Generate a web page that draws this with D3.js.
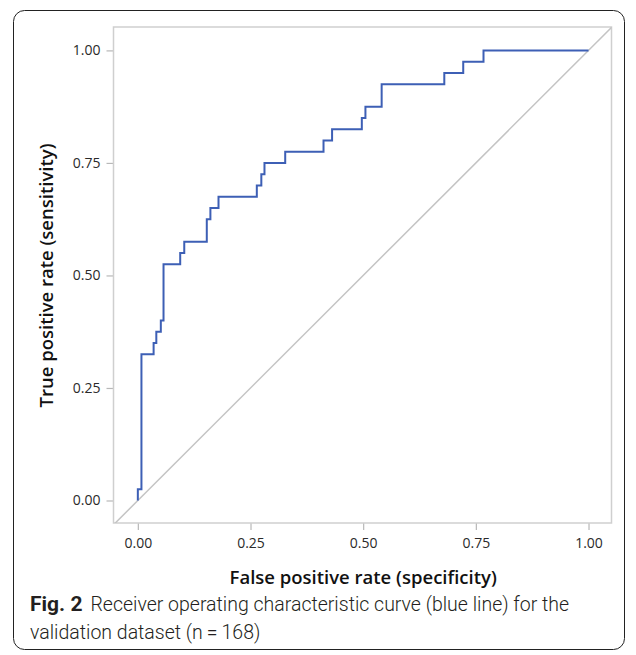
<!DOCTYPE html>
<html>
<head>
<meta charset="utf-8">
<script src="https://d3js.org/d3.v7.min.js"></script>
<style>
  body { margin: 0; background: #fff; }
</style>
</head>
<body>
<svg width="636" height="655"></svg>
<script>

// ROC curve vertices (false positive rate, true positive rate)
var fpr = [0, 0.008, 0.035, 0.041, 0.051, 0.057, 0.094, 0.103, 0.153, 0.161, 0.179,
           0.264, 0.274, 0.281, 0.327, 0.412, 0.431, 0.497, 0.505, 0.541, 0.680,
           0.722, 0.767, 1.0];
var tpr = [0, 0.025, 0.325, 0.35, 0.375, 0.40, 0.525, 0.55, 0.575, 0.625, 0.65,
           0.675, 0.70, 0.725, 0.75, 0.775, 0.80, 0.825, 0.85, 0.875, 0.925,
           0.95, 0.975, 1.0];
var ticks = [0, 0.25, 0.5, 0.75, 1];
var diagonal = [[-0.06, -0.06], [1.06, 1.06]];

var svg = d3.select("svg");

// frame of the plot panel
var pLeft = 113.5, pRight = 611.5, pTop = 27, pBottom = 523;

var xScale = d3.scaleLinear().domain([-0.054, 1.051]).range([pLeft, pRight]);
var yScale = d3.scaleLinear().domain([-0.05, 1.052]).range([pBottom, pTop]);

// outer card
svg.append("rect")
  .attr("x", 13.5).attr("y", 10.5)
  .attr("width", 611).attr("height", 639)
  .attr("rx", 11)
  .style("fill", "none")
  .style("stroke", "#222")
  .style("stroke-width", 1);

svg.append("clipPath").attr("id", "clip")
  .append("rect")
  .attr("x", pLeft).attr("y", pTop)
  .attr("width", pRight - pLeft).attr("height", pBottom - pTop);

// axes
var xAxis = svg.append("g")
  .attr("transform", "translate(0," + pBottom + ")")
  .call(d3.axisBottom(xScale).tickValues(ticks).tickFormat(d3.format(".2f")).tickSizeOuter(0).tickSize(7).tickPadding(8));

var yAxis = svg.append("g")
  .attr("transform", "translate(" + pLeft + ",0)")
  .call(d3.axisLeft(yScale).tickValues(ticks).tickFormat(d3.format(".2f")).tickSizeOuter(0).tickSize(7).tickPadding(6));

[xAxis, yAxis].forEach(function (g) {
  g.select(".domain").remove();
  g.selectAll(".tick line").style("stroke", "#b8b8b8").style("stroke-width", 1.2);
  g.selectAll(".tick text")
    .style("font-family", "'Open Sans', sans-serif")
    .style("font-size", "14px")
    .style("fill", "#2a2a2a");
});

// panel border
svg.append("rect")
  .attr("x", pLeft).attr("y", pTop)
  .attr("width", pRight - pLeft).attr("height", pBottom - pTop)
  .style("fill", "none")
  .style("stroke", "#cfcfcf")
  .style("stroke-width", 1.5);

// chance line
var line = d3.line()
  .x(function (d) { return xScale(d[0]); })
  .y(function (d) { return yScale(d[1]); });

svg.append("path")
  .datum(diagonal)
  .attr("clip-path", "url(#clip)")
  .attr("d", line)
  .style("fill", "none")
  .style("stroke", "#c4c4c4")
  .style("stroke-width", 1.5);

// ROC step curve
var roc = fpr.map(function (d, i) { return [d, tpr[i]]; });

svg.append("path")
  .datum(roc)
  .attr("d", line.curve(d3.curveStepBefore))
  .style("fill", "none")
  .style("stroke", "#3d5fb5")
  .style("stroke-width", 2);

// axis titles
svg.append("text")
  .attr("x", xScale(0.5))
  .attr("y", 584)
  .attr("text-anchor", "middle")
  .style("font-family", "'Open Sans', sans-serif")
  .style("font-weight", 600)
  .style("font-size", "18.5px")
  .style("fill", "#111")
  .text("False positive rate (specificity)");

svg.append("text")
  .attr("text-anchor", "middle")
  .attr("transform", "translate(53," + yScale(0.5) + ")rotate(-90)")
  .style("font-family", "'Open Sans', sans-serif")
  .style("font-weight", 600)
  .style("font-size", "18.5px")
  .style("fill", "#111")
  .text("True positive rate (sensitivity)");

// caption
var caption = svg.append("text")
  .attr("x", 30)
  .attr("y", 611)
  .style("font-family", "Roboto, sans-serif")
  .style("font-size", "19.5px")
  .style("fill", "#231f20");

caption.append("tspan")
  .style("font-weight", "bold")
  .style("font-size", "21px")
  .text("Fig. 2");
caption.append("tspan")
  .attr("dx", 8)
  .style("font-weight", 300)
  .text("Receiver operating characteristic curve (blue line) for the");

svg.append("text")
  .attr("x", 30)
  .attr("y", 639)
  .style("font-family", "Roboto, sans-serif")
  .style("font-size", "19.5px")
  .style("font-weight", 300)
  .style("fill", "#231f20")
  .text("validation dataset (n\u2009=\u2009168)");

</script>
</body>
</html>
